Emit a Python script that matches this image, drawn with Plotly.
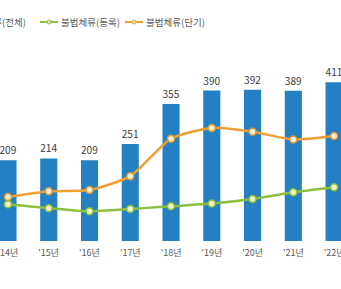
import plotly.graph_objects as go

years = ["'14년", "'15년", "'16년", "'17년", "'18년", "'19년", "'20년", "'21년", "'22년"]
total = [209, 214, 209, 251, 355, 390, 392, 389, 411]
registered = [95, 85, 77, 83, 90, 97, 109, 126, 139]
short_term = [114, 129, 132, 168, 265, 293, 283, 263, 272]
series_names = ["불법체류(전체)", "불법체류(등록)", "불법체류(단기)"]

xs = list(range(len(years)))
FONT = "Noto Sans CJK KR"
W, H = 341, 289
ML, MR, MT, MB = 0, 0, 48, 48
BAR_C, GREEN, ORANGE = "#2580c3", "#8cbf3f", "#f0a033"

fig = go.Figure()
fig.add_trace(go.Bar(
    x=xs, y=total, name=series_names[0], width=0.42,
    marker=dict(color=BAR_C, line=dict(width=0)),
    text=[str(v) for v in total], textposition="outside",
    textfont=dict(size=10.5, color="#404040", family=FONT),
    cliponaxis=False,
))
fig.add_trace(go.Scatter(
    x=xs, y=registered, name=series_names[1], mode="lines+markers",
    line=dict(color=GREEN, width=2.5, shape="spline", smoothing=0.6),
    marker=dict(size=7, color="#eef0c8", line=dict(color=GREEN, width=1.5)),
))
fig.add_trace(go.Scatter(
    x=xs, y=short_term, name=series_names[2], mode="lines+markers",
    line=dict(color=ORANGE, width=2.5, shape="spline", smoothing=0.6),
    marker=dict(size=7, color="#f4ecd0", line=dict(color="#d99a3a", width=1.5)),
))

# manual legend (first entry is partly cut off at the left edge, as in the reference)
pw, ph = W - ML - MR, H - MT - MB
def px2x(px):
    return (px - ML) / pw
def py2y(py):
    return (H - MB - py) / ph

ly = py2y(22)
shapes, annotations = [], []
shapes.append(dict(type="rect", xref="paper", yref="paper",
                   x0=px2x(-40), x1=px2x(-32), y0=py2y(26), y1=py2y(18),
                   fillcolor=BAR_C, line=dict(width=0)))
annotations.append(dict(text=series_names[0], xref="paper", yref="paper",
                        x=px2x(28), y=ly, xanchor="right", yanchor="middle",
                        showarrow=False, font=dict(size=9.5, color="#595959", family=FONT)))
for (x0, x1, col, name) in [(40, 58, GREEN, series_names[1]), (125, 143, ORANGE, series_names[2])]:
    shapes.append(dict(type="line", xref="paper", yref="paper",
                       x0=px2x(x0), x1=px2x(x1), y0=ly, y1=ly,
                       line=dict(color=col, width=2)))
    shapes.append(dict(type="circle", xref="paper", yref="paper",
                       xsizemode="pixel", ysizemode="pixel",
                       xanchor=px2x((x0 + x1) / 2), yanchor=ly,
                       x0=-2, x1=2, y0=-2, y1=2,
                       fillcolor="#f0eccc", line=dict(color=col, width=1)))
    annotations.append(dict(text=name, xref="paper", yref="paper",
                            x=px2x(x1 + 1), y=ly, xanchor="left", yanchor="middle",
                            showarrow=False, font=dict(size=9.5, color="#595959", family=FONT)))

fig.update_layout(
    width=W, height=H,
    margin=dict(l=ML, r=MR, t=MT, b=MB, autoexpand=False),
    paper_bgcolor="white", plot_bgcolor="white",
    font=dict(family=FONT, size=10, color="#595959"),
    showlegend=False,
    shapes=shapes, annotations=annotations,
    xaxis=dict(
        range=[-0.196, 8.17], tickmode="array", tickvals=xs, ticktext=years,
        showgrid=False, zeroline=False, showline=False, ticks="",
        ticklabeloverflow="allow", ticklabelstandoff=5,
        tickfont=dict(size=9, color="#595959", family=FONT),
    ),
    yaxis=dict(range=[0, 500], visible=False, showgrid=False, zeroline=False),
)
fig.write_html("out.html")
